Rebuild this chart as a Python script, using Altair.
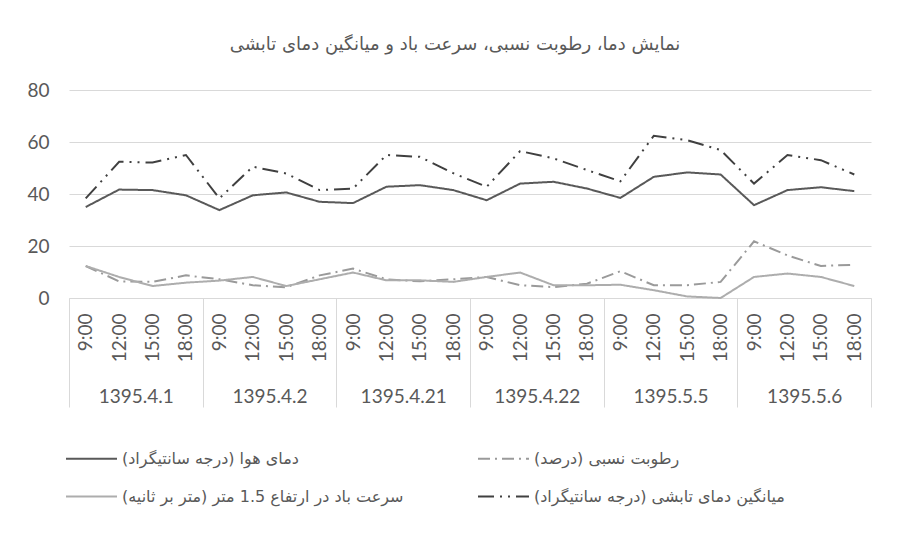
import altair as alt
import pandas as pd

dates = ["1395.4.1", "1395.4.2", "1395.4.21", "1395.4.22", "1395.5.5", "1395.5.6"]
times = ["9:00", "12:00", "15:00", "18:00"]

air = [35.0, 41.7, 41.5, 39.5, 33.8, 39.5, 40.6, 37.0, 36.5, 42.8, 43.4, 41.5,
       37.6, 44.0, 44.7, 42.1, 38.5, 46.6, 48.3, 47.5, 35.7, 41.5, 42.6, 41.1]
humidity = [12.3, 6.4, 6.2, 8.7, 7.2, 4.9, 4.1, 8.7, 11.3, 7.2, 6.4, 7.2,
            8.1, 4.9, 4.2, 5.5, 10.3, 4.9, 4.9, 6.2, 21.8, 16.4, 12.3, 12.8]
wind = [12.3, 8.1, 4.6, 5.9, 6.7, 8.1, 4.6, 7.2, 9.8, 6.8, 6.8, 6.2,
        8.1, 9.8, 4.9, 4.9, 5.1, 3.0, 0.6, 0.0, 8.1, 9.4, 8.1, 4.6]
radiant = [38.3, 52.4, 52.1, 55.0, 38.3, 50.5, 47.9, 41.5, 42.1, 55.0, 54.3, 48.0,
           42.8, 56.5, 53.7, 49.2, 44.9, 62.4, 60.7, 56.9, 44.0, 55.0, 53.0, 47.5]

name_air = "دمای هوا (درجه سانتیگراد)"
name_hum = "رطوبت نسبی (درصد)"
name_wind = "سرعت باد در ارتفاع 1.5 متر (متر بر ثانیه)"
name_rad = "میانگین دمای تابشی (درجه سانتیگراد)"

# legend order (filled column by column)
series_names = [name_air, name_wind, name_hum, name_rad]
colors = ["#595959", "#adadad", "#9a9a9a", "#404040"]
dashes = [[1, 0], [1, 0], [12, 5, 2, 5], [16, 6, 2, 6, 2, 6]]

title_text = "نمایش دما، رطوبت نسبی، سرعت باد و میانگین دمای تابشی"

keys = [f"{d} {t}" for d in dates for t in times]
rows = []
for s, vals in zip([name_air, name_hum, name_wind, name_rad], [air, humidity, wind, radiant]):
    for k, v in zip(keys, vals):
        rows.append({"key": k, "series": s, "value": v})
df = pd.DataFrame(rows)
date_df = pd.DataFrame({"date": dates})

AX = "#595959"
GRID = "#d9d9d9"

legend = alt.Legend(
    title=None, orient="none", legendX=-4, legendY=342, columns=2,
    symbolType="stroke", symbolSize=2601, symbolStrokeWidth=2,
    labelFont="DejaVu Sans", labelFontSize=16, labelColor=AX,
    columnPadding=70, rowPadding=3, labelLimit=500,
)

lines = alt.Chart(df).mark_line(strokeWidth=2).encode(
    x=alt.X("key:O", sort=keys,
            scale=alt.Scale(type="point", padding=0.5),
            axis=alt.Axis(title=None, labelExpr="split(datum.label, ' ')[1]",
                          labelAngle=270, ticks=False, domain=True, domainColor=GRID,
                          labelPadding=15, labelFont="Lato", labelFontSize=19,
                          labelColor=AX, grid=False)),
    y=alt.Y("value:Q", scale=alt.Scale(domain=[0, 80]),
            axis=alt.Axis(values=[0, 20, 40, 60, 80], title=None, domain=False,
                          ticks=False, gridColor=GRID, labelPadding=20,
                          labelFont="Lato", labelFontSize=19, labelColor=AX)),
    color=alt.Color("series:N", scale=alt.Scale(domain=series_names, range=colors),
                    legend=legend),
    strokeDash=alt.StrokeDash("series:N", scale=alt.Scale(domain=series_names, range=dashes),
                              legend=legend),
)

date_layer = alt.Chart(date_df).mark_point(opacity=0).encode(
    x=alt.X("date:N", sort=dates,
            scale=alt.Scale(type="band", paddingInner=0, paddingOuter=0),
            axis=alt.Axis(orient="bottom", title=None, tickBand="extent", tickSize=109,
                          tickColor=GRID, labelPadding=-20, domain=False, grid=False,
                          labelAngle=0, labelFont="Lato", labelFontSize=19, labelColor=AX)),
)

chart = alt.layer(lines, date_layer).resolve_scale(x="independent").properties(
    width=802, height=208,
    title=alt.TitleParams(title_text, font="DejaVu Sans", fontSize=18, color=AX,
                          fontWeight="normal", offset=27, dx=-15),
    padding={"left": 18, "top": 28, "right": 20, "bottom": 10},
).configure_view(stroke=None)

chart.save("out.html", embed_options={"renderer": "svg", "actions": False})
